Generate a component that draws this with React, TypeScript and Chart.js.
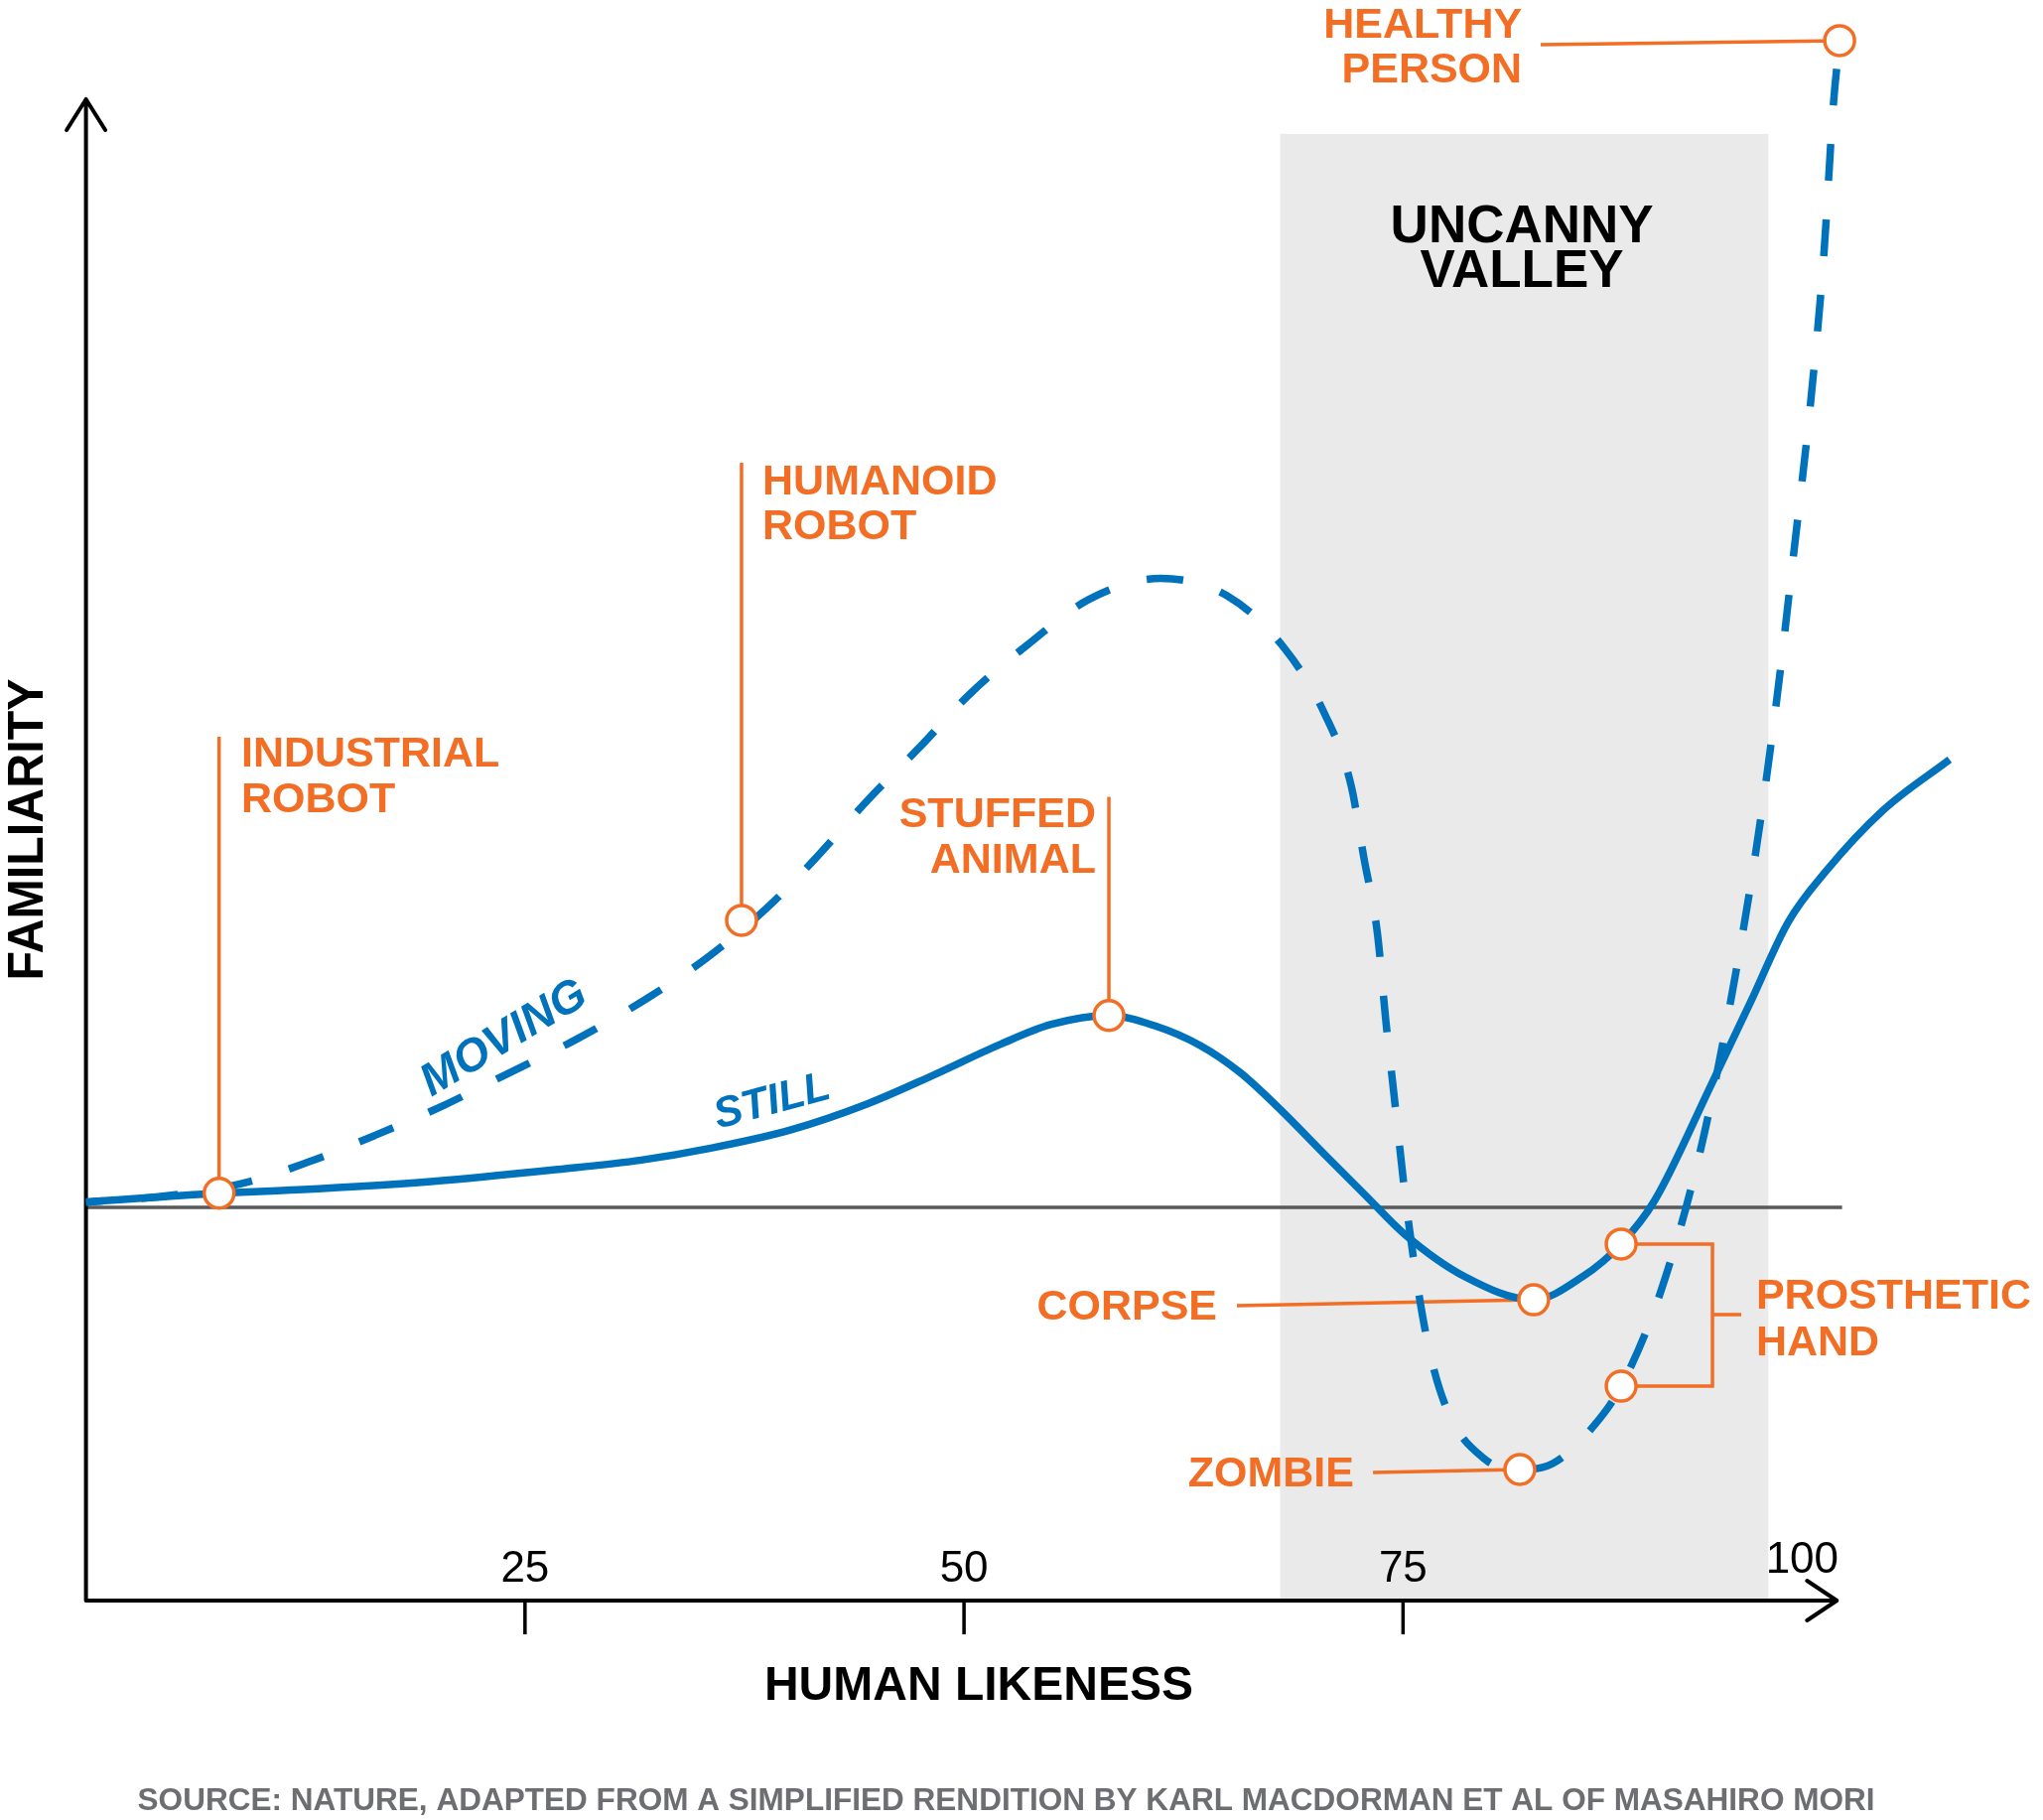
import React, { useEffect, useRef } from "react";
import { Chart, registerables } from "chart.js";

Chart.register(...registerables);

// ---------- DATA ----------
const stillX = [0, 7.58, 12.06, 19.64, 26.9, 31.62, 35.5, 40.1, 44.5, 48.19, 52.09, 54.97, 58.25, 60.85, 63.45, 65.71, 67.97, 70.57, 72.83, 75.09, 78.54, 82.44, 85.21, 87.42, 89.33, 92.56, 94.77, 96.92, 99.06, 102.34, 106.12];
const stillY = [0.4, 1.08, 1.34, 1.97, 2.9, 3.61, 4.5, 5.9, 7.9, 10.05, 12.45, 13.96, 14.64, 13.86, 12.35, 10.3, 7.52, 3.99, 0.96, -2.05, -5.3, -7.05, -5.3, -2.8, 0.53, 9.39, 15.61, 21.74, 25.61, 30.3, 34.17];

const movingX = [0, 4.26, 8.9, 12.7, 16.47, 20.37, 24.16, 27.94, 31.73, 35.28, 38.8, 41.57, 44.51, 47.56, 50.33, 53.61, 57.12, 61.19, 64.98, 68.25, 70.51, 72.04, 72.77, 73.54, 74.02, 74.42, 75.26, 76.34, 77.47, 79.62, 81.65, 83.52, 85.88, 87.42, 89.67, 91.94, 93.67, 95.12, 96.27, 97.24, 98.21, 98.96, 99.51, 99.86];
const movingY = [0.4, 0.83, 1.82, 3.48, 5.5, 7.78, 10.3, 12.83, 15.76, 18.96, 22.88, 26.67, 31.06, 35.23, 39.17, 42.92, 46.39, 47.99, 46.67, 42.65, 37.73, 32.2, 26.67, 20.91, 14.24, 9.39, -0.61, -9.92, -15.3, -19.17, -20.0, -19.55, -16.64, -13.64, -6.44, 4.38, 15.83, 27.42, 38.63, 49.83, 61.43, 72.64, 84.23, 89.02];

const markerNames = ["INDUSTRIAL ROBOT", "HUMANOID ROBOT", "STUFFED ANIMAL", "CORPSE", "ZOMBIE", "PROSTHETIC HAND (STILL)", "PROSTHETIC HAND (MOVING)", "HEALTHY PERSON"];
const markerX = [7.58, 37.33, 58.25, 82.44, 81.65, 87.42, 87.42, 99.86];
const markerY = [1.08, 21.9, 14.64, -7.05, -20.0, -2.8, -13.64, 89.02];

const xTickMarks = [25, 50, 75];
const xTickLabels = ["25", "50", "75", "100"];
const xTickLabelValues = [25, 50, 75, 100];
const valleyStart = 68;
const valleyEnd = 95.8;
const valleyTop = 81.9;

// ---------- STYLE ----------
const BLUE = "#0071bb";
const ORANGE = "#f26e25";
const FONT = '"Liberation Sans", Arial, sans-serif';

function capText(ctx: CanvasRenderingContext2D, text: string, x: number, y: number, size: number, weight: string, color: string, align: CanvasTextAlign, style = "normal", maxWidth?: number) {
  ctx.font = `${style} ${weight} ${size}px ${FONT}`;
  ctx.fillStyle = color;
  ctx.textAlign = align;
  ctx.textBaseline = "alphabetic";
  if (maxWidth) ctx.fillText(text, x, y + size * 0.358, maxWidth);
  else ctx.fillText(text, x, y + size * 0.358);
}

const callouts = [
  { lines: ["INDUSTRIAL", "ROBOT"], align: "left", x: 8.84, y: [34.77, 31.29] },
  { lines: ["HUMANOID", "ROBOT"], align: "left", x: 38.52, y: [55.53, 52.12] },
  { lines: ["STUFFED", "ANIMAL"], align: "right", x: 57.51, y: [30.15, 26.67] },
  { lines: ["CORPSE"], align: "right", x: 64.41, y: [-7.42] },
  { lines: ["ZOMBIE"], align: "right", x: 72.21, y: [-20.15] },
  { lines: ["PROSTHETIC", "HAND"], align: "left", x: 95.1, y: [-6.59, -10.15] },
  { lines: ["HEALTHY", "PERSON"], align: "right", x: 81.77, y: [90.38, 86.97] },
];

const decorPlugin = {
  id: "decor",
  beforeDatasetsDraw(chart: any) {
    const { ctx, scales } = chart;
    const X = (v: number) => scales.x.getPixelForValue(v);
    const Y = (v: number) => scales.y.getPixelForValue(v);
    ctx.save();
    // uncanny valley band
    ctx.fillStyle = "#eaeaea";
    ctx.fillRect(X(valleyStart), Y(valleyTop), X(valleyEnd) - X(valleyStart), Y(-30) - Y(valleyTop));
    capText(ctx, "UNCANNY", X(81.77), Y(75.11), 53, "bold", "#000", "center");
    capText(ctx, "VALLEY", X(81.77), Y(71.7), 53, "bold", "#000", "center");

    // baseline
    ctx.strokeStyle = "#58595b";
    ctx.lineWidth = 3.5;
    ctx.beginPath();
    ctx.moveTo(X(0), Y(0));
    ctx.lineTo(X(100), Y(0));
    ctx.stroke();

    // axes
    ctx.strokeStyle = "#000";
    ctx.lineWidth = 4;
    ctx.lineCap = "round";
    ctx.lineJoin = "round";
    const x0 = X(0), yb = Y(-30), yTop = Y(84.55), xEnd = X(99.7);
    ctx.beginPath();
    ctx.moveTo(x0, yb);
    ctx.lineTo(x0, yTop);
    ctx.moveTo(x0 - 19.5, yTop + 31);
    ctx.lineTo(x0, yTop);
    ctx.lineTo(x0 + 19.5, yTop + 31);
    ctx.moveTo(x0, yb);
    ctx.lineTo(xEnd, yb);
    ctx.moveTo(xEnd - 30, yb - 20);
    ctx.lineTo(xEnd, yb);
    ctx.lineTo(xEnd - 30, yb + 20);
    ctx.stroke();
    ctx.lineCap = "butt";
    ctx.lineWidth = 3.5;
    ctx.beginPath();
    xTickMarks.forEach((t) => {
      ctx.moveTo(X(t), yb);
      ctx.lineTo(X(t), Y(-32.58));
    });
    ctx.stroke();

    xTickLabelValues.forEach((t, i) => {
      if (t === 100) capText(ctx, xTickLabels[i], X(99.8), Y(-26.67), 44, "normal", "#000", "right");
      else capText(ctx, xTickLabels[i], X(t), Y(-27.35), 44, "normal", "#000", "center");
    });

    // connectors
    ctx.strokeStyle = ORANGE;
    ctx.lineWidth = 3.5;
    ctx.lineCap = "butt";
    ctx.lineJoin = "miter";
    const seg = (a: number[], b: number[]) => {
      ctx.beginPath();
      ctx.moveTo(X(a[0]), Y(a[1]));
      ctx.lineTo(X(b[0]), Y(b[1]));
      ctx.stroke();
    };
    seg([markerX[0], 35.9], [markerX[0], markerY[0]]);
    seg([markerX[1], 56.82], [markerX[1], markerY[1]]);
    seg([markerX[2], 31.32], [markerX[2], markerY[2]]);
    seg([65.54, -7.5], [markerX[3], markerY[3]]);
    seg([73.29, -20.23], [markerX[4], markerY[4]]);
    seg([82.84, 88.71], [markerX[7], markerY[7]]);
    ctx.beginPath();
    ctx.moveTo(X(markerX[5]), Y(markerY[5]));
    ctx.lineTo(X(92.62), Y(markerY[5]));
    ctx.lineTo(X(92.62), Y(markerY[6]));
    ctx.lineTo(X(markerX[6]), Y(markerY[6]));
    ctx.stroke();
    seg([92.62, -8.18], [94.26, -8.18]);
    ctx.restore();
  },
  afterDatasetsDraw(chart: any) {
    const { ctx, scales } = chart;
    const X = (v: number) => scales.x.getPixelForValue(v);
    const Y = (v: number) => scales.y.getPixelForValue(v);
    ctx.save();
    callouts.forEach((c) => {
      c.lines.forEach((line, i) => {
        capText(ctx, line, X(c.x), Y(c.y[i]), 43, "bold", ORANGE, c.align as CanvasTextAlign);
      });
    });
    // curve labels
    ctx.save();
    ctx.translate(X(23.71), Y(13.11));
    ctx.rotate((-31 * Math.PI) / 180);
    capText(ctx, "MOVING", 0, 0, 46, "bold", BLUE, "center", "italic");
    ctx.restore();
    ctx.save();
    ctx.translate(X(39.03), Y(8.3));
    ctx.rotate((-15 * Math.PI) / 180);
    capText(ctx, "STILL", 0, 0, 43, "bold", BLUE, "center", "italic");
    ctx.restore();
    // axis titles
    ctx.save();
    ctx.translate(X(-3.45), Y(28.83));
    ctx.rotate(-Math.PI / 2);
    capText(ctx, "FAMILIARITY", 0, 0, 50, "bold", "#000", "center", "normal", 304);
    ctx.restore();
    capText(ctx, "HUMAN LIKENESS", X(50.84), Y(-36.25), 48, "bold", "#000", "center", "normal", 436);
    capText(ctx, "SOURCE: NATURE, ADAPTED FROM A SIMPLIFIED RENDITION BY KARL MACDORMAN ET AL OF MASAHIRO MORI", X(52.4), Y(-45.08), 32, "bold", "#6d6e71", "center", "normal", 1750);
    ctx.restore();
  },
};

export default function App() {
  const ref = useRef<HTMLCanvasElement>(null);
  useEffect(() => {
    if (!ref.current) return;
    const chart = new Chart(ref.current, {
      type: "line",
      data: {
        datasets: [
          {
            type: "scatter",
            label: "Examples",
            data: markerX.map((v, i) => ({ x: v, y: markerY[i] })),
            pointRadius: 15,
            pointBorderWidth: 3.5,
            pointBackgroundColor: "#ffffff",
            pointBorderColor: ORANGE,
            showLine: false,
            order: 0,
            clip: false,
          } as any,
          {
            label: "Still",
            data: stillX.map((v, i) => ({ x: v, y: stillY[i] })),
            borderColor: BLUE,
            borderWidth: 7.5,
            pointRadius: 0,
            fill: false,
            cubicInterpolationMode: "monotone",
            order: 1,
            clip: false,
          },
          {
            label: "Moving",
            data: movingX.map((v, i) => ({ x: v, y: movingY[i] })),
            borderColor: BLUE,
            borderWidth: 7.5,
            borderDash: [37, 39],
            borderDashOffset: 20,
            borderCapStyle: "butt",
            pointRadius: 0,
            fill: false,
            cubicInterpolationMode: "monotone",
            order: 2,
            clip: false,
          },
        ],
      },
      options: {
        animation: false,
        responsive: false,
        devicePixelRatio: 1,
        events: [],
        layout: { autoPadding: false, padding: { left: 86.6, right: 25.5, top: 1.6, bottom: 221 } },
        plugins: { legend: { display: false }, tooltip: { enabled: false } },
        scales: {
          x: { type: "linear", min: 0, max: 110, display: false },
          y: { type: "linear", min: -30, max: 92, display: false },
        },
      },
      plugins: [decorPlugin],
    });
    return () => chart.destroy();
  }, []);
  return (
    <canvas
      ref={ref}
      width={2058}
      height={1833}
      style={{ position: "absolute", left: 0, top: 0, background: "#ffffff" }}
    />
  );
}
